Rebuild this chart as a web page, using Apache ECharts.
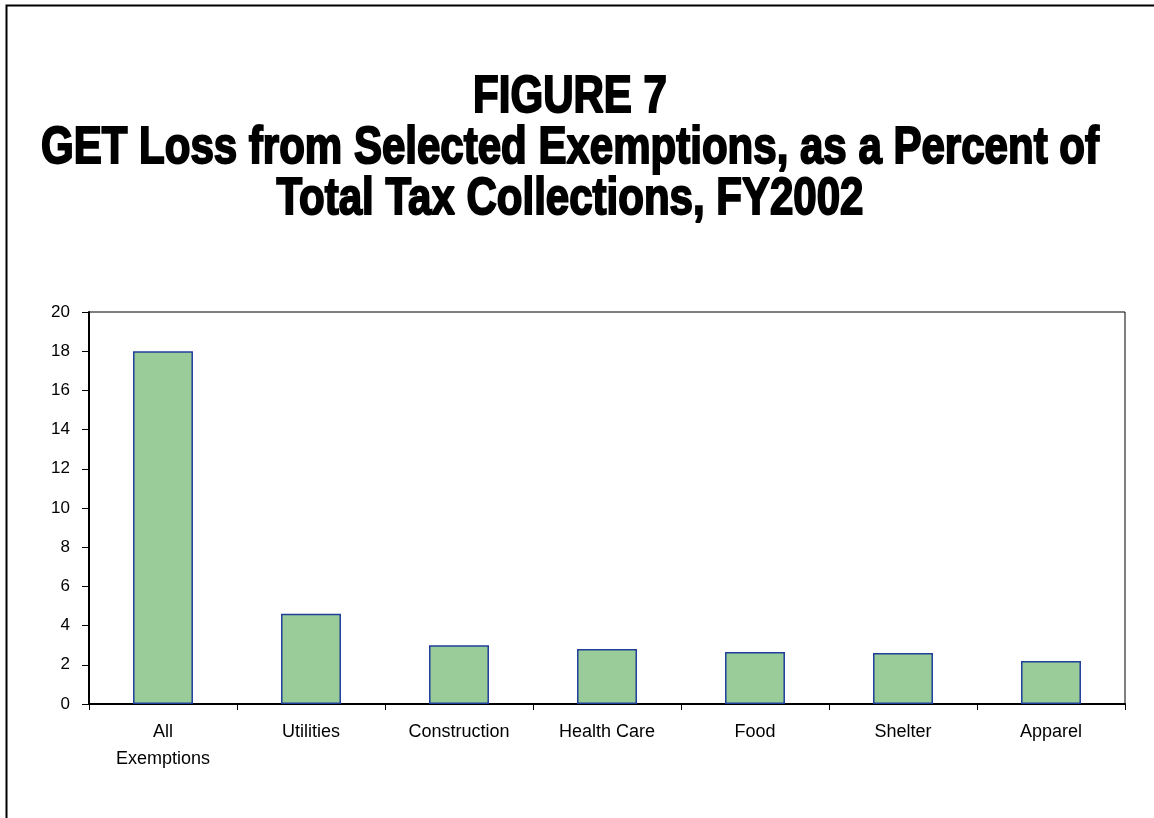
<!DOCTYPE html>
<html>
<head>
<meta charset="utf-8">
<script src="https://cdn.jsdelivr.net/npm/echarts@6/dist/echarts.min.js"></script>
<style>
html,body{margin:0;padding:0;background:#fff;}
#main{width:1154px;height:818px;}
</style>
</head>
<body>
<div id="main"></div>
<script>
const categories = ['All\nExemptions', 'Utilities', 'Construction', 'Health Care', 'Food', 'Shelter', 'Apparel'];
const values = [18.0, 4.6, 3.0, 2.8, 2.65, 2.6, 2.2];
const titleLines = ['FIGURE 7', 'GET Loss from Selected Exemptions, as a Percent of', 'Total Tax Collections, FY2002'];
const yMin = 0, yMax = 20, yInterval = 2;

const chart = echarts.init(document.getElementById('main'), null, {renderer: 'canvas'});
chart.setOption({
  animation: false,
  backgroundColor: '#fff',
  graphic: [
    {
      type: 'rect', left: 4, top: 3, silent: true,
      shape: {x: 0, y: 0, width: 1200, height: 900},
      style: {fill: 'none', stroke: '#000', lineWidth: 2}
    },
    {
      type: 'text', x: 570, y: 73, scaleX: 1.025, scaleY: 1.25, silent: true,
      style: {
        text: titleLines.join('\n'),
        fill: '#000',
        stroke: '#000',
        lineWidth: 1.6,
        font: 'bold 41px "Liberation Sans", Arial, sans-serif',
        lineHeight: 40.5,
        align: 'center',
        verticalAlign: 'top'
      }
    }
  ],
  grid: {left: 89, right: 29, top: 312, bottom: 114, show: true, borderColor: '#000', borderWidth: 1, backgroundColor: 'transparent'},
  xAxis: {
    type: 'category',
    data: categories,
    axisLine: {lineStyle: {color: '#000', width: 2}},
    axisTick: {show: true, length: 6, lineStyle: {color: '#000', width: 1}},
    axisLabel: {interval: 0, color: '#000', fontFamily: '"Liberation Sans", Arial, sans-serif', fontSize: 18, lineHeight: 27, margin: 15}
  },
  yAxis: {
    type: 'value',
    min: yMin, max: yMax, interval: yInterval,
    splitLine: {show: false},
    axisLine: {show: true, lineStyle: {color: '#000', width: 2}},
    axisTick: {show: true, length: 7, lineStyle: {color: '#000', width: 1}},
    axisLabel: {color: '#000', fontFamily: '"Liberation Sans", Arial, sans-serif', fontSize: 17, margin: 19}
  },
  series: [{
    type: 'bar',
    data: values,
    barWidth: '40.5%',
    itemStyle: {color: '#99cc99', borderColor: '#1f3f99', borderWidth: 1.5}
  }]
});
</script>
</body>
</html>
